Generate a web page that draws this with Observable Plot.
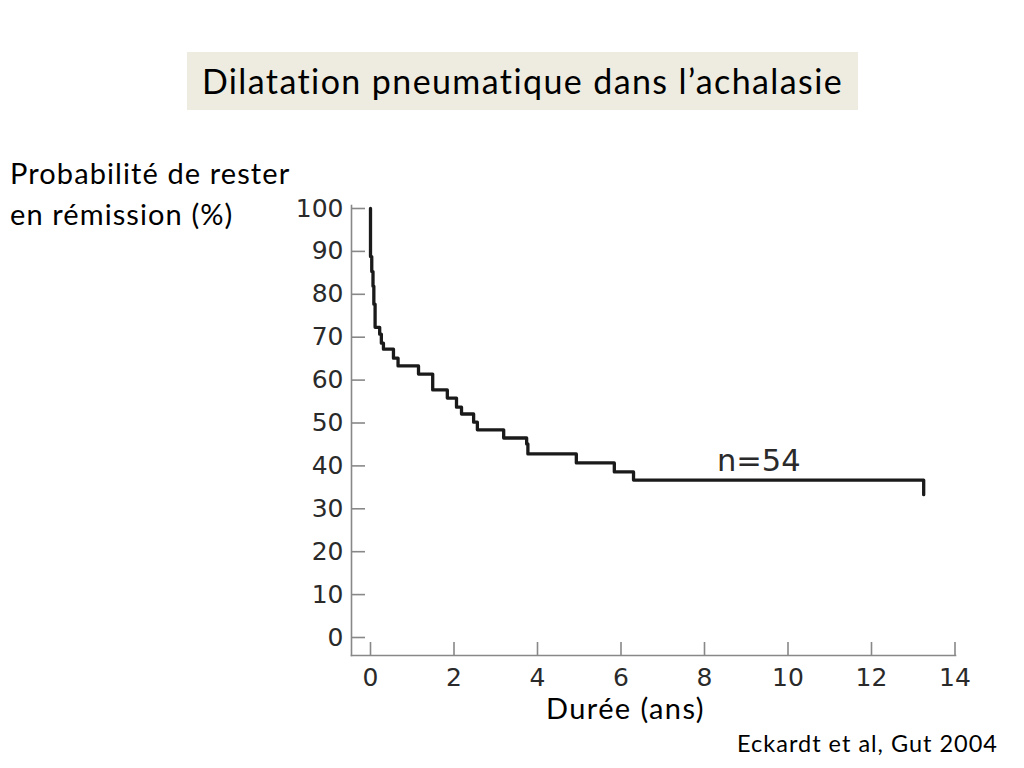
<!DOCTYPE html>
<html>
<head>
<meta charset="utf-8">
<script src="https://cdn.jsdelivr.net/npm/d3@7"></script>
<script src="https://cdn.jsdelivr.net/npm/@observablehq/plot@0.6"></script>
<style>
  html, body { margin: 0; padding: 0; background: #fff; }
  #wrap { position: relative; width: 1024px; height: 768px; overflow: hidden; font-family: Lato, "Open Sans", sans-serif; color: #000; }
  #chart { position: absolute; left: 0; top: 0; }
  .lbl { position: absolute; white-space: nowrap; line-height: 1; }
  #title { left: 187px; top: 52px; width: 671px; height: 58px; background: #EEECE1; display: flex; align-items: center; justify-content: center; font-size: 34px; letter-spacing: 1.4px; }
  #ylab { left: 10px; top: 152px; font-size: 29px; letter-spacing: 1.1px; line-height: 41px; }
  #xlab { left: 546px; top: 693px; font-size: 29px; letter-spacing: 1.4px; }
  #cap { right: 26px; top: 732px; font-size: 23.5px; letter-spacing: 1px; }
</style>
</head>
<body>
<div id="wrap">
  <div id="chart"></div>
  <div class="lbl" id="title">Dilatation pneumatique dans l’achalasie</div>
  <div class="lbl" id="ylab">Probabilité de rester<br>en rémission (%)</div>
  <div class="lbl" id="xlab">Durée (ans)</div>
  <div class="lbl" id="cap">Eckardt et al, Gut 2004</div>
</div>
<script>
// Kaplan–Meier curve: time (years) of each step and survival (%) after the step
const years    = [0,   0,    0.03, 0.06, 0.08, 0.11, 0.22, 0.26, 0.31, 0.55, 0.66, 1.15, 1.49, 1.84, 2.06, 2.18, 2.47, 2.56, 3.19, 3.74, 3.77, 4.93, 5.84, 6.30, 13.25];
const survival = [100, 88.8, 85.3, 81.9, 77.7, 72.3, 70.7, 68.6, 67.2, 65.1, 63.3, 61.4, 57.7, 55.8, 53.7, 52.1, 50.2, 48.4, 46.5, 45.1, 42.8, 40.7, 38.6, 36.7, 33.3];
const xTicks = [0, 2, 4, 6, 8, 10, 12, 14];
const yTicks = [0, 10, 20, 30, 40, 50, 60, 70, 80, 90, 100];
const annotation = ["n=54"];

const curve = years.map((t, i) => ({t, s: survival[i]}));

const chart = Plot.plot({
  width: 1024,
  height: 768,
  marginLeft: 351,
  marginRight: 69,
  marginTop: 205,
  marginBottom: 113,
  x: {domain: [0, 14], range: [370, 954.5]},
  y: {domain: [0, 100], range: [637, 208]},
  style: {fontFamily: "'DejaVu Sans', sans-serif", fontSize: "25px", background: "transparent", overflow: "visible"},
  marks: [
    Plot.frame({anchor: "left", stroke: "#888", strokeWidth: 1.6}),
    Plot.frame({anchor: "bottom", stroke: "#888", strokeWidth: 1.6}),
    Plot.axisX(xTicks, {anchor: "bottom", tickSize: -13, tickPadding: 26, stroke: "#888", strokeWidth: 1.6, fill: "#2a2a2a", fontSize: 25, label: null}),
    Plot.axisY(yTicks, {anchor: "left", tickSize: -14, tickPadding: 22, stroke: "#888", strokeWidth: 1.6, fill: "#2a2a2a", fontSize: 25, label: null}),
    Plot.line(curve, {x: "t", y: "s", curve: "step-after", stroke: "#1a1a1a", strokeWidth: 3.3}),
    Plot.text(annotation, {x: 9.3, y: 41.2, text: d => d, fontSize: 30.5, fill: "#2a2a2a"})
  ]
});
document.getElementById("chart").appendChild(chart);
</script>
</body>
</html>
